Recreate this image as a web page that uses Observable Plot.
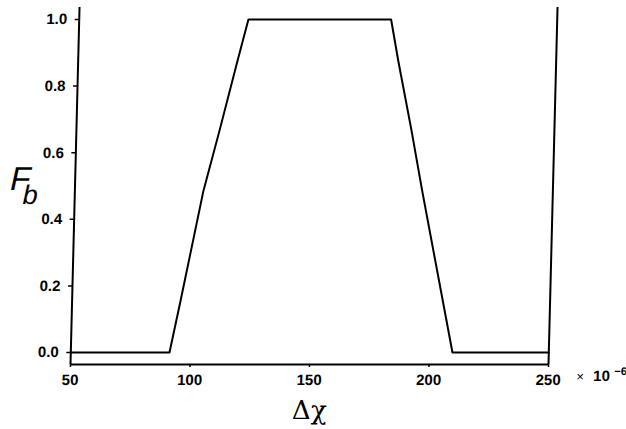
<!DOCTYPE html>
<html>
<head>
<meta charset="utf-8">
<script src="https://cdn.jsdelivr.net/npm/d3@7"></script>
<script src="https://cdn.jsdelivr.net/npm/@observablehq/plot@0.6"></script>
<style>
  html, body { margin: 0; padding: 0; background: #fff; }
  #chart svg { display: block; transform: skewX(-1.45deg); transform-origin: 0 364px; }
</style>
</head>
<body>
<div id="chart"></div>
<script>
// Data (Δχ in units of 1e-6, F_b fraction)
const deltaChi = [50, 91.3, 95.4, 103.8, 109.9, 116.7, 120.8, 180.5, 183.9, 190.2, 195.3, 209.7, 250];
const fb       = [0, 0, 0.156, 0.486, 0.667, 0.877, 1.0, 1.0, 0.877, 0.667, 0.486, 0, 0];
const xTicks = [50, 100, 150, 200, 250];
const yTicks = [0, 0.2, 0.4, 0.6, 0.8, 1.0];
const xLabel = "Δχ";
const yLabelMain = "F";
const yLabelSub = "b";
const unitTimes = "×";
const unitBase = "10";
const unitExp = "−6";

const rows = deltaChi.map((x, i) => ({x, y: fb[i]}));
const font = "'Liberation Sans', Arial, sans-serif";

const chart = Plot.plot({
  width: 626,
  height: 429,
  marginLeft: 70,
  marginRight: 78,
  marginTop: 7,
  marginBottom: 65,
  style: {fontFamily: font, fontSize: "15px", fontWeight: "bold", color: "#000", background: "#fff"},
  x: {domain: [50, 250]},
  y: {domain: [-0.036, 1.036]},
  marks: [
    Plot.axisX({ticks: xTicks, tickSize: 3, tickPadding: 7, label: null, tickFormat: d => String(d), strokeWidth: 1.5}),
    Plot.axisY({ticks: yTicks, tickSize: 4, tickPadding: 8, label: null, tickFormat: d => d.toFixed(1), strokeWidth: 1.5}),
    Plot.ruleY([-0.036], {stroke: "#000", strokeWidth: 2}),
    Plot.ruleX([50, 250], {stroke: "#000", strokeWidth: 2}),
    Plot.line(rows, {x: "x", y: "y", stroke: "#000", strokeWidth: 2}),
    Plot.text([unitTimes], {frameAnchor: "bottom-right", dx: 32, dy: 16, text: d => d, textAnchor: "middle", fontSize: 13, fontWeight: "normal"}),
    Plot.text([unitBase], {frameAnchor: "bottom-right", dx: 45, dy: 16, text: d => d, textAnchor: "start", fontSize: 15}),
    Plot.text([unitExp], {frameAnchor: "bottom-right", dx: 66, dy: 10, text: d => d, textAnchor: "start", fontSize: 11}),
    Plot.text([xLabel], {frameAnchor: "bottom", dx: 1, dy: 54, text: d => d, fontSize: 26, fontWeight: "normal", fontFamily: "'DejaVu Serif', serif"}),
    Plot.text([yLabelMain], {frameAnchor: "left", dx: -65, dy: -7, text: d => d, textAnchor: "start", fontSize: 33, fontWeight: "normal", fontStyle: "italic", fontFamily: font}),
    Plot.text([yLabelSub], {frameAnchor: "left", dx: -52, dy: 9, text: d => d, textAnchor: "start", fontSize: 27, fontWeight: "normal", fontStyle: "italic", fontFamily: font})
  ]
});
document.getElementById("chart").appendChild(chart);
</script>
</body>
</html>
